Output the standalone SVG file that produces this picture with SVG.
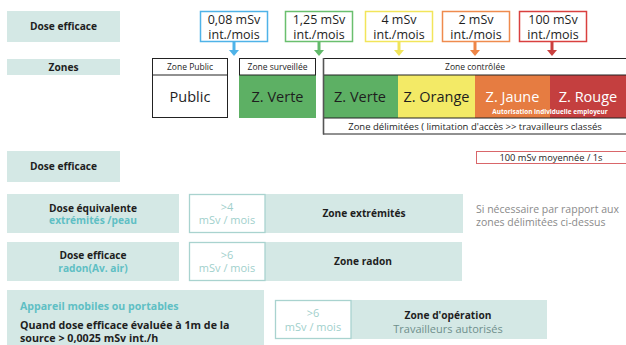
<svg xmlns="http://www.w3.org/2000/svg" width="626" height="345" viewBox="0 0 626 345">
<style>
text{font-family:"Open Sans","DejaVu Sans",sans-serif;fill:#1e1e1e;text-anchor:middle}
.lab{fill:#d4e8e5}
.b{font-weight:700;font-size:10.2px}
.val{font-size:12.5px}
.hdr{font-size:8.5px}
.big{font-size:14.5px}
.wb{fill:#fff;stroke:#a9d3cf;stroke-width:1.3}
.tl{fill:#5fbfc4;font-weight:700;font-size:10.2px}
.lt{fill:#9fd0cc;font-size:11px}
.gr{fill:#8a8a8a;font-size:10.5px;text-anchor:start}
.blk{fill:none;stroke:#222;stroke-width:1}
</style>

<g id="connectors" stroke-width="3">
<path d="M234,42V51" stroke="#4fb3e8"/><path d="M229,50h10l-5,6z" fill="#4fb3e8"/>
<path d="M319,42V51" stroke="#62b96a"/><path d="M314,50h10l-5,6z" fill="#62b96a"/>
<path d="M399,42V51" stroke="#f0e45a"/><path d="M394,50h10l-5,6z" fill="#f0e45a"/>
<path d="M475,42V51" stroke="#ee8547"/><path d="M470,50h10l-5,6z" fill="#ee8547"/>
<path d="M552,42V51" stroke="#c9403f"/><path d="M547,50h10l-5,6z" fill="#c9403f"/>
</g>

<g id="label-dose1"><rect class="lab" x="7" y="11" width="113" height="31"/><text class="b" x="63.5" y="30">Dose efficace</text></g>
<g id="label-zones"><rect class="lab" x="7" y="59" width="113" height="16"/><text class="b" x="63.5" y="70.5">Zones</text></g>

<g id="val-008"><rect x="200.5" y="11.5" width="67" height="30" fill="#fff" stroke="#4fb3e8" stroke-width="1.5"/><text class="val" x="234" y="24">0,08 mSv</text><text class="val" x="234" y="38.5">int./mois</text></g>
<g id="val-125"><rect x="285.5" y="11.5" width="67" height="30" fill="#fff" stroke="#6abf6e" stroke-width="1.5"/><text class="val" x="319" y="24">1,25 mSv</text><text class="val" x="319" y="38.5">int./mois</text></g>
<g id="val-4"><rect x="365.5" y="11.5" width="67" height="30" fill="#fff" stroke="#f2e55a" stroke-width="1.5"/><text class="val" x="399" y="24">4 mSv</text><text class="val" x="399" y="38.5">int./mois</text></g>
<g id="val-2"><rect x="442.5" y="11.5" width="67" height="30" fill="#fff" stroke="#ef8b4e" stroke-width="1.5"/><text class="val" x="476" y="24">2 mSv</text><text class="val" x="476" y="38.5">int./mois</text></g>
<g id="val-100"><rect x="519.5" y="11.5" width="67" height="30" fill="#fff" stroke="#d9403f" stroke-width="1.5"/><text class="val" x="553" y="24">100 mSv</text><text class="val" x="553" y="38.5">int./mois</text></g>

<g id="zone-public">
<rect class="blk" x="152.5" y="58.5" width="75" height="59" fill="#fff"/>
<line x1="152" y1="75" x2="228" y2="75" stroke="#222"/>
<text class="hdr" x="190" y="70">Zone Public</text>
<text class="big" x="190" y="102">Public</text>
</g>

<g id="zone-surveillee">
<rect x="239" y="75" width="77" height="43" fill="#5db064"/>
<rect class="blk" x="239.5" y="58.5" width="76" height="16.5" fill="#fff"/>
<text class="hdr" x="277.5" y="70">Zone surveillée</text>
<text class="big" x="277.5" y="102">Z. Verte</text>
</g>

<g id="zone-controlee">
<rect x="323" y="75" width="75" height="43" fill="#5db064"/>
<rect x="398" y="75" width="77" height="43" fill="#f3ea66"/>
<rect x="475" y="75" width="75" height="43" fill="#e67c41"/>
<rect x="550" y="75" width="77" height="43" fill="#c43f3f"/>
<rect class="blk" x="323.5" y="58.5" width="305" height="16.5" fill="#fff"/>
<rect class="blk" x="323.5" y="118" width="305" height="16" fill="#fff"/>
<line x1="323.5" y1="58" x2="323.5" y2="134.5" stroke="#555" stroke-width="1.6"/>
<text class="hdr" x="475" y="70">Zone contrôlée</text>
<text class="big" x="360" y="102">Z. Verte</text>
<text class="big" x="436.5" y="102">Z. Orange</text>
<text class="big" x="512.5" y="102" style="fill:#fff">Z. Jaune</text>
<text class="big" x="588" y="102" style="fill:#fff">Z. Rouge</text>
<text x="550" y="114" style="fill:#fff;font-size:6.4px;font-weight:700">Autorisation individuelle employeur</text>
<text x="475" y="129.5" style="font-size:9.5px">Zone délimitées ( limitation d'accès &gt;&gt; travailleurs classés</text>
</g>

<g id="note-100">
<rect x="476.5" y="151.5" width="152" height="12" fill="#fff" stroke="#d9666a" stroke-width="1"/>
<text x="551" y="160.5" style="font-size:9.3px">100 mSv moyennée / 1s</text>
</g>

<g id="label-dose2"><rect class="lab" x="7" y="151" width="113" height="31"/><text class="b" x="63.5" y="170">Dose efficace</text></g>

<g id="row-extremites">
<rect class="lab" x="7" y="194" width="172" height="39"/>
<text class="b" x="93" y="211.5">Dose équivalente</text>
<text class="tl" x="93" y="224">extrémités /peau</text>
<rect class="lab" x="189" y="194" width="274" height="39"/>
<rect class="wb" x="189.5" y="194.5" width="75.5" height="38"/>
<text class="lt" x="227" y="210.5">&gt;4</text>
<text class="lt" x="227" y="224">mSv / mois</text>
<text class="b" x="364" y="217">Zone extrémités</text>
<text class="gr" x="476" y="213">Si nécessaire par rapport aux</text>
<text class="gr" x="476" y="226">zones délimitées ci-dessus</text>
</g>

<g id="row-radon">
<rect class="lab" x="7" y="242" width="172" height="39"/>
<text class="b" x="93" y="259">Dose efficace</text>
<text class="tl" x="93" y="271.5">radon(Av. air)</text>
<rect class="lab" x="189" y="242" width="273" height="39"/>
<rect class="wb" x="189.5" y="242.5" width="75.5" height="38"/>
<text class="lt" x="227" y="258.5">&gt;6</text>
<text class="lt" x="227" y="272">mSv / mois</text>
<text class="b" x="363" y="264.5">Zone radon</text>
</g>

<g id="row-appareil">
<rect class="lab" x="7" y="290" width="257" height="60"/>
<text class="tl" x="20" y="310" style="text-anchor:start;font-size:10.6px">Appareil mobiles ou portables</text>
<text class="b" x="20" y="329" style="text-anchor:start;font-size:10.7px">Quand dose efficace évaluée à 1m de la</text>
<text class="b" x="20" y="342" style="text-anchor:start;font-size:10.7px">source &gt; 0,0025 mSv int./h</text>
</g>

<g id="zone-operation">
<rect class="lab" x="275" y="300" width="272" height="39"/>
<rect class="wb" x="275.5" y="300.5" width="75.5" height="38"/>
<text class="lt" x="313" y="317">&gt;6</text>
<text class="lt" x="313" y="330.5">mSv / mois</text>
<text class="b" x="448" y="319">Zone d'opération</text>
<text x="448" y="333" style="fill:#6f8f8c;font-size:11px">Travailleurs autorisés</text>
</g>
</svg>
